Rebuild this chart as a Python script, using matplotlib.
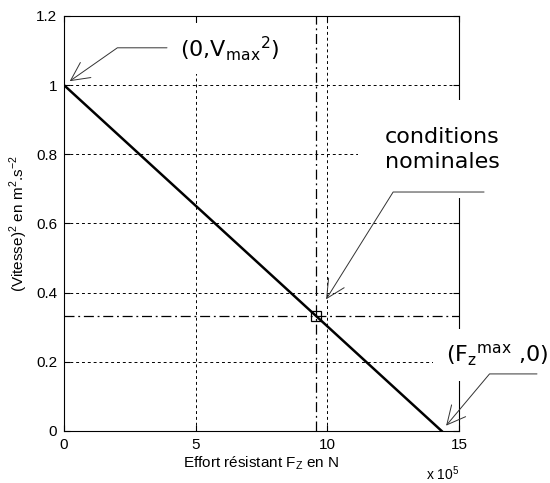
import matplotlib.pyplot as plt

plt.rcParams['font.family'] = ['Liberation Sans', 'DejaVu Sans']

# effort resistant (x 1e5 N) vs (vitesse)^2
fz = [0.0, 14.34]
v2 = [1.0, 0.0]
fz_nom = 9.56
v2_nom = 0.333

xticks = [0, 5, 10, 15]
yticks = [0, 0.2, 0.4, 0.6, 0.8, 1, 1.2]
ytick_labels = ['0', '0.2', '0.4', '0.6', '0.8', '1', '1.2']

fig = plt.figure(figsize=(5.5, 4.83), dpi=100)
ax = fig.add_axes([0.1164, 0.1077, 0.7182, 0.8592])

ax.plot(fz, v2, color='k', lw=1.8, zorder=3)
ax.axvline(fz_nom, color='k', lw=0.9, dashes=(8, 3, 1.5, 3), zorder=2)
ax.axhline(v2_nom, color='k', lw=0.9, dashes=(8, 3, 1.5, 3), zorder=2)
ax.plot([fz_nom], [v2_nom], 's', mfc='none', mec='k', ms=7, mew=0.9, zorder=3)

ax.set_xlim(0, 15)
ax.set_ylim(0, 1.2)
ax.set_xticks(xticks)
ax.set_xticklabels([str(t) for t in xticks])
ax.set_yticks(yticks)
ax.set_yticklabels(ytick_labels)
ax.set_axisbelow(True)
ax.grid(True, color='k', lw=0.7, dashes=(3, 3))
ax.tick_params(direction='in', length=4, top=True, right=True,
               labelsize=11, pad=5, width=0.8)
for sp in ax.spines.values():
    sp.set_linewidth(0.8)

ax.set_xlabel(r'Effort résistant F$_\mathregular{Z}$ en N', fontsize=11, labelpad=2)
ax.set_ylabel(r'(Vitesse)$^\mathregular{2}$ en m$^\mathregular{2}$.s$^\mathregular{-2}$',
              fontsize=11, labelpad=4)
ax.text(1.0, -0.118, r'x 10$^\mathregular{5}$', transform=ax.transAxes,
        ha='right', va='baseline', fontsize=10)

box = dict(boxstyle='square,pad=0.5', fc='white', ec='none')
arrow = dict(arrowstyle='->,head_length=1.1,head_width=0.55', color='#333333',
             lw=0.7, shrinkA=0, mutation_scale=12)

# (0, Vmax^2)
ax.text(6.30, 1.105, r'(0,V$_\mathregular{max}$$^\mathregular{2}$)', family='DejaVu Sans',
        fontsize=16, ha='center', va='center', bbox=box, zorder=4, clip_on=False)
ax.annotate('', xy=(fz[0], v2[0]), xytext=(3.91, 1.108),
            arrowprops=dict(arrow, shrinkB=5, connectionstyle='angle,angleA=0,angleB=35,rad=0'),
            zorder=5, annotation_clip=False)

# conditions nominales
ax.text(14.36, 0.815, 'conditions\nnominales', family='DejaVu Sans', fontsize=16,
        ha='center', va='center', linespacing=1.3, zorder=4, clip_on=False,
        bbox=dict(boxstyle='square,pad=1.2', fc='white', ec='none'))
ax.annotate('', xy=(fz_nom, v2_nom), xytext=(15.95, 0.691),
            arrowprops=dict(arrow, shrinkB=14, connectionstyle='angle,angleA=0,angleB=58,rad=0'),
            zorder=5, annotation_clip=False)

# (Fz max, 0)
ax.text(16.45, 0.22, r'(F$_\mathregular{z}$$^\mathregular{max}$ ,0)', family='DejaVu Sans',
        fontsize=16, ha='center', va='center', zorder=4, clip_on=False,
        bbox=dict(boxstyle='square,pad=0.6', fc='white', ec='none'))
ax.annotate('', xy=(fz[1], v2[1]), xytext=(17.96, 0.165),
            arrowprops=dict(arrow, shrinkB=5, connectionstyle='angle,angleA=0,angleB=50,rad=0'),
            zorder=5, annotation_clip=False)

fig.savefig('out.png', dpi=100)
